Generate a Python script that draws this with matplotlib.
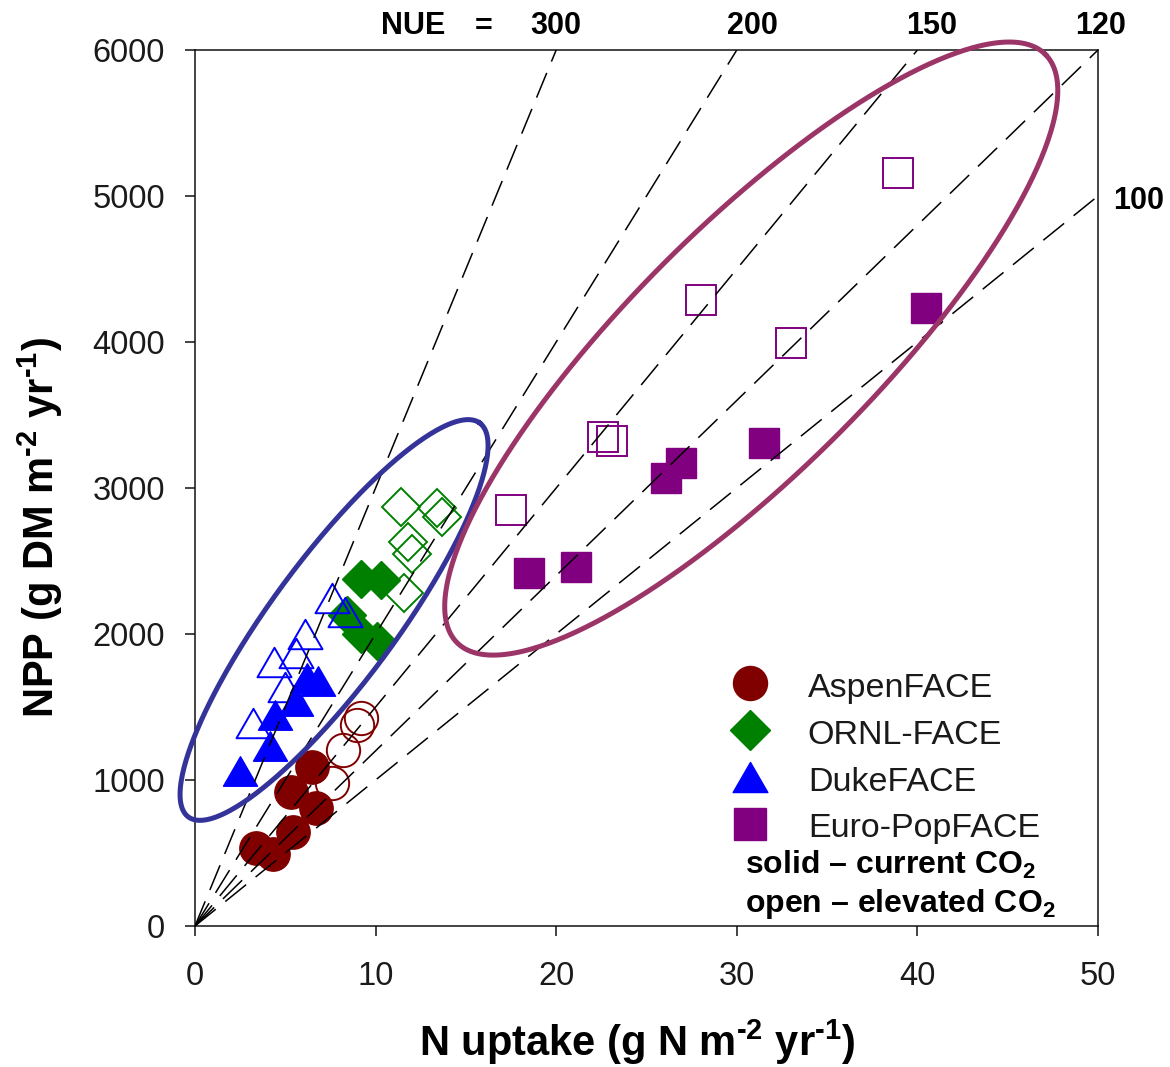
import numpy as np
import matplotlib
matplotlib.use('Agg')
import matplotlib.pyplot as plt
from matplotlib.lines import Line2D
from matplotlib.path import Path

plt.rcParams['font.family'] = ['Liberation Sans', 'DejaVu Sans']
plt.rcParams['mathtext.fontset'] = 'custom'
plt.rcParams['mathtext.rm'] = 'Liberation Sans'
plt.rcParams['mathtext.bf'] = 'Liberation Sans:bold'
plt.rcParams['mathtext.default'] = 'regular'

# ---------------- data ----------------
nue_values = [300, 200, 150, 120, 100]
nue_labels = ['300', '200', '150', '120', '100']

aspen_cur_x = [3.4, 4.3, 5.3, 5.4, 6.5, 6.7]
aspen_cur_y = [535, 490, 915, 645, 1090, 810]
aspen_elev_x = [7.6, 8.2, 8.95, 9.2]
aspen_elev_y = [980, 1205, 1377, 1425]

ornl_cur_x = [9.2, 10.3, 8.4, 9.2, 10.1]
ornl_cur_y = [2380, 2370, 2130, 2000, 1950]
ornl_elev_x = [11.4, 13.4, 13.7, 11.8, 12.0, 11.6]
ornl_elev_y = [2870, 2860, 2800, 2630, 2550, 2280]

duke_cur_x = [2.5, 4.15, 4.45, 5.6, 6.2, 6.8]
duke_cur_y = [1065, 1230, 1445, 1540, 1700, 1680]
duke_elev_x = [3.2, 4.4, 5.0, 5.6, 6.1, 7.6, 8.3]
duke_elev_y = [1390, 1810, 1640, 1870, 2000, 2250, 2150]

euro_cur_x = [18.5, 21.1, 26.1, 26.9, 31.5, 40.5]
euro_cur_y = [2420, 2460, 3070, 3170, 3310, 4230]
euro_elev_x = [17.5, 22.6, 23.1, 28.0, 33.0, 38.9]
euro_elev_y = [2850, 3350, 3325, 4290, 3990, 5160]

site_names = ['AspenFACE', 'ORNL-FACE', 'DukeFACE', 'Euro-PopFACE']

# ---------------- styles ----------------
c_aspen = '#800000'
c_ornl = '#008000'
c_duke = '#0000FF'
c_euro = '#800080'
tri = Path([(-1, -0.866), (1, -0.866), (0, 0.866), (-1, -0.866)],
           [Path.MOVETO, Path.LINETO, Path.LINETO, Path.CLOSEPOLY])
txt_col = '#1a1a1a'
HY = '\u2010'  # typographic hyphen (keeps a short dash in superscripts)

W, H = 1170, 1067
fig = plt.figure(figsize=(W / 100, H / 100), dpi=100)
ax = fig.add_axes([195 / W, 1 - 926 / H, 903 / W, 876 / H])
ax.set_xlim(0, 50)
ax.set_ylim(0, 6000)

# markers
def pts(x, y, marker, ms, col, filled, z):
    ax.plot(x, y, ls='none', marker=marker, ms=ms,
            mfc=col if filled else 'none', mec=col,
            mew=1.0 if filled else 1.4, zorder=z)

pts(euro_elev_x, euro_elev_y, 's', 22, c_euro, False, 3)
pts(euro_cur_x, euro_cur_y, 's', 22, c_euro, True, 3)
pts(ornl_cur_x, ornl_cur_y, 'D', 19.5, c_ornl, True, 3)
pts(ornl_elev_x, ornl_elev_y, 'D', 19.5, c_ornl, False, 3.1)
pts(aspen_elev_x, aspen_elev_y, 'o', 24, c_aspen, False, 3.1)
pts(aspen_cur_x, aspen_cur_y, 'o', 24, c_aspen, True, 3.2)
pts(duke_elev_x, duke_elev_y, tri, 24.5, c_duke, False, 3.3)
pts(duke_cur_x, duke_cur_y, tri, 24.5, c_duke, True, 3.4)

# NUE iso-lines
for nue in nue_values:
    xe = min(50.0, 6000.0 / nue)
    ax.plot([0, xe], [0, nue * xe], color='black', lw=1.1,
            ls=(0, (17.5, 8.0)), zorder=5)

# ellipses (drawn in display space so they are true ellipses)
def draw_ellipse(cx, cy, a_px, b_px, ang_deg, color, lw):
    t = np.linspace(0, 2 * np.pi, 500)
    c = ax.transData.transform((cx, cy))
    ang = np.radians(ang_deg)
    dx = a_px * np.cos(t) * np.cos(ang) - b_px * np.sin(t) * np.sin(ang)
    dy = a_px * np.cos(t) * np.sin(ang) + b_px * np.sin(t) * np.cos(ang)
    p = ax.transData.inverted().transform(np.column_stack([c[0] + dx, c[1] + dy]))
    ax.plot(p[:, 0], p[:, 1], color=color, lw=lw, clip_on=False, zorder=6)

draw_ellipse(7.7, 2096, 245, 62, 53.5, '#33339A', 3.6)
draw_ellipse(30.8, 3955, 416, 122, 45, '#9B3467', 3.6)

# axes styling
for s in ax.spines.values():
    s.set_linewidth(1.1)
    s.set_color('#111111')
ax.set_xticks([0, 10, 20, 30, 40, 50])
ax.set_yticks([0, 1000, 2000, 3000, 4000, 5000, 6000])
ax.tick_params(axis='both', direction='out', length=7.5, width=1.1,
               labelsize=23.5, labelcolor=txt_col, color='#111111')
ax.tick_params(axis='y', pad=14)
ax.tick_params(axis='x', pad=18)

# axis labels
fig.text(637 / W, 1 - 1042 / H, 'N uptake (g N m$^{' + HY + '2}$ yr$^{' + HY + '1}$)',
         fontsize=30, fontweight='bold', ha='center', va='center', color='black')
fig.text(40 / W, 1 - 528 / H, 'NPP (g DM m$^{' + HY + '2}$ yr$^{' + HY + '1}$)',
         fontsize=30, fontweight='bold', ha='center', va='center',
         rotation=90, color='black')

# NUE labels
fig.text(413 / W, 1 - 26 / H, 'NUE', fontsize=22, fontweight='bold', ha='center', va='center')
fig.text(484 / W, 1 - 27 / H, '=', fontsize=22, fontweight='bold', ha='center', va='center')
label_px = [(556, 26), (752, 26), (932, 26), (1101, 26), (1139, 201)]
for lab, (px, py) in zip(nue_labels, label_px):
    fig.text(px / W, 1 - py / H, lab, fontsize=22, fontweight='bold',
             ha='center', va='center')

# legend
handles = [
    Line2D([], [], ls='none', marker='o', ms=24.5, mfc=c_aspen, mec=c_aspen),
    Line2D([], [], ls='none', marker='D', ms=20.5, mfc=c_ornl, mec=c_ornl),
    Line2D([], [], ls='none', marker=tri, ms=25, mfc=c_duke, mec=c_duke),
    Line2D([], [], ls='none', marker='s', ms=23, mfc=c_euro, mec=c_euro),
]
leg = ax.legend(handles, site_names, loc='upper left',
                bbox_to_anchor=(733 / W, 1 - 670 / H), bbox_transform=fig.transFigure,
                frameon=False, fontsize=24.5, handlelength=1.0, handleheight=1.0,
                handletextpad=1.2, labelspacing=0.38, borderpad=0, borderaxespad=0)
for t in leg.get_texts():
    t.set_color(txt_col)

fig.text(745 / W, 1 - 865 / H, r'solid – current CO$_2$', fontsize=23,
         fontweight='bold', ha='left', va='center')
fig.text(745 / W, 1 - 904 / H, r'open – elevated CO$_2$', fontsize=23,
         fontweight='bold', ha='left', va='center')

fig.savefig('out.png', dpi=100)
